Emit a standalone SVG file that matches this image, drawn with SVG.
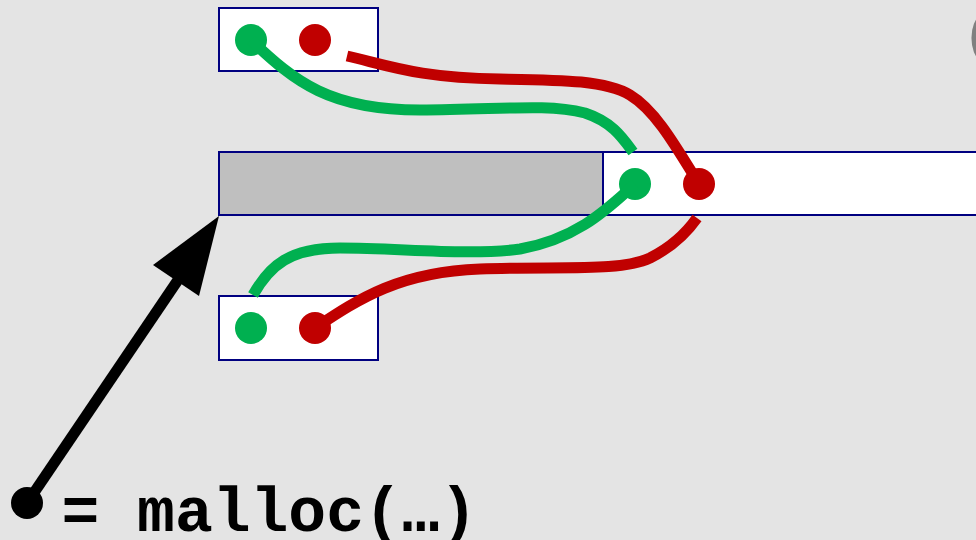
<svg xmlns="http://www.w3.org/2000/svg" width="976" height="540" viewBox="0 0 976 540">
  <style>
    .box { fill: #FFFFFF; stroke: #000080; stroke-width: 2; }
    .used { fill: #BFBFBF; stroke: #000080; stroke-width: 2; }
    .g { fill: #00B050; }
    .r { fill: #C00000; }
    .gl { fill: none; stroke: #00B050; stroke-width: 11; stroke-linecap: butt; }
    .rl { fill: none; stroke: #C00000; stroke-width: 11; stroke-linecap: butt; }
    .code { font-family: "Courier New", "Liberation Mono", monospace; font-weight: bold; font-size: 63px; fill: #000000; }
  </style>
  <rect x="0" y="0" width="976" height="540" fill="#E4E4E4"/>

  <text x="968" y="52" font-family="Liberation Sans, Arial, sans-serif" font-size="56" fill="#808080">(</text>

  <g id="node-top">
    <rect class="box" x="219" y="8" width="159" height="63"/>
    <circle class="g" cx="251" cy="40" r="16"/>
    <circle class="r" cx="315" cy="40" r="16"/>
  </g>

  <g id="node-block">
    <rect class="used" x="219" y="152" width="384" height="63"/>
    <rect class="box" x="603" y="152" width="390" height="63"/>
    <circle class="g" cx="635" cy="184" r="16"/>
    <circle class="r" cx="699" cy="184" r="16"/>
  </g>

  <g id="node-bottom">
    <rect class="box" x="219" y="296" width="159" height="64"/>
    <circle class="g" cx="251" cy="328" r="16"/>
    <circle class="r" cx="315" cy="328" r="16"/>
  </g>

  <g id="connectors">
    <path class="gl" d="M251,40 C295,82 330,110 420,110 C500,110 545,103 585,113 C612,122 622,137 633,152"/>
    <path class="rl" d="M347,56 C390,66 420,78 500,79 C560,80 605,80 630,95 C655,110 675,145 699,184"/>
    <path class="gl" d="M635,184 C610,206 580,238 520,249 C470,256 400,248 340,248 C290,248 270,265 253,295"/>
    <path class="rl" d="M315,328 C360,298 400,272 480,269 C560,266 620,272 650,258 C670,248 685,235 697,218"/>
    <line x1="27" y1="503" x2="180" y2="277" stroke="#000000" stroke-width="11"/>
    <polygon points="219,216 153,265 199,296" fill="#000000"/>
  </g>

  <g id="pointer">
    <circle cx="27" cy="503" r="16" fill="#000000"/>
    <text class="code" x="61.5" y="531">= malloc(…)</text>
  </g>
</svg>
